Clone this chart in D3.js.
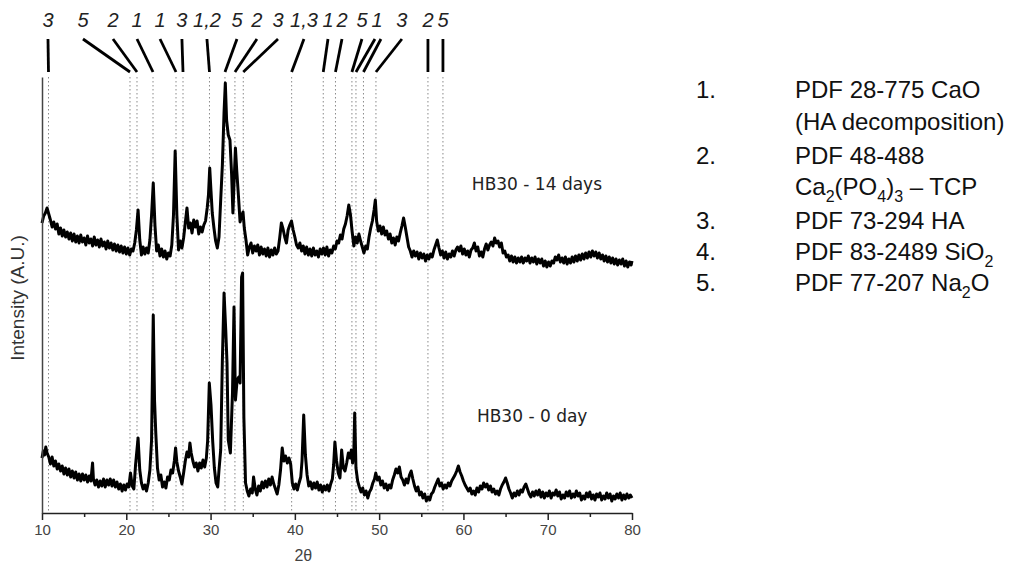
<!DOCTYPE html>
<html>
<head>
<meta charset="utf-8">
<script src="https://cdn.jsdelivr.net/npm/d3@7"></script>
<style>
  body { margin: 0; background: #fff; }
  svg { display: block; }
  .tickLab { font-family: "Liberation Sans", Arial, sans-serif; font-size: 15px; fill: #444; }
</style>
</head>
<body>
<svg id="chart" width="1030" height="565"></svg>
<script>
// XRD patterns of HB30: [2theta, intensity (A.U.)]
const day14 = [
  [10.0,290],[10.2,297],[10.4,300],[10.6,305],[10.8,299],[11.0,293],[11.2,286],[11.4,291],[11.6,284],[11.8,289],
  [12.0,279],[12.2,285],[12.4,277],[12.6,283],[12.8,276],[13.0,281],[13.2,274],[13.4,280],[13.6,272],[13.8,279],
  [14.0,271],[14.2,277],[14.4,270],[14.6,278],[14.8,271],[15.0,275],[15.2,268],[15.4,277],[15.6,270],[15.8,274],
  [16.0,267],[16.2,276],[16.4,268],[16.6,273],[16.8,266],[17.0,274],[17.2,267],[17.4,271],[17.6,264],[17.8,272],
  [18.0,265],[18.2,270],[18.4,263],[18.6,269],[18.8,262],[19.0,268],[19.2,261],[19.4,267],[19.6,260],[19.8,266],
  [20.0,259],[20.2,265],[20.4,258],[20.6,264],[20.8,262],[21.0,270],[21.2,283],[21.4,303],[21.6,273],[21.8,258],
  [22.0,266],[22.2,259],[22.4,265],[22.6,260],[22.8,273],[23.0,298],[23.2,330],[23.4,288],[23.6,262],[23.8,268],
  [24.0,257],[24.2,264],[24.4,256],[24.6,262],[24.8,254],[25.0,260],[25.2,257],[25.4,268],[25.6,298],[25.8,362],
  [26.0,298],[26.2,263],[26.4,272],[26.6,265],[26.8,275],[27.0,290],[27.2,305],[27.4,285],[27.6,290],[27.8,280],
  [28.0,293],[28.2,286],[28.4,292],[28.6,279],[28.8,286],[29.0,281],[29.2,288],[29.4,292],[29.6,305],[29.75,318],
  [29.9,345],[30.05,322],[30.2,300],[30.4,285],[30.6,272],[30.8,265],[31.0,276],[31.2,313],[31.4,348],[31.6,401],
  [31.75,430],[31.9,393],[32.1,378],[32.3,373],[32.5,338],[32.65,300],[32.8,333],[32.95,365],[33.1,343],[33.3,318],
  [33.5,291],[33.7,298],[33.85,301],[34.0,285],[34.2,273],[34.4,258],[34.6,266],[34.8,270],[35.0,260],[35.2,267],
  [35.4,262],[35.6,268],[35.8,258],[36.0,266],[36.2,259],[36.4,264],[36.6,257],[36.8,265],[37.0,256],[37.2,263],
  [37.4,258],[37.6,265],[37.8,259],[38.0,262],[38.2,275],[38.4,290],[38.6,284],[38.8,276],[39.0,270],[39.2,283],
  [39.4,288],[39.6,292],[39.8,283],[40.0,276],[40.2,268],[40.4,265],[40.6,270],[40.8,262],[41.0,267],[41.2,259],
  [41.4,266],[41.6,258],[41.8,264],[42.0,257],[42.2,265],[42.4,258],[42.6,262],[42.8,256],[43.0,264],[43.2,259],
  [43.4,265],[43.6,258],[43.8,266],[44.0,257],[44.2,263],[44.4,260],[44.6,267],[44.8,264],[45.0,272],[45.2,270],
  [45.4,278],[45.6,274],[45.8,284],[46.0,289],[46.2,297],[46.4,308],[46.6,298],[46.8,281],[47.0,267],[47.2,276],
  [47.4,270],[47.6,279],[47.8,272],[48.0,266],[48.2,260],[48.4,267],[48.6,264],[48.8,276],[49.0,285],[49.2,292],
  [49.4,303],[49.55,313],[49.7,292],[49.9,282],[50.1,287],[50.3,279],[50.5,286],[50.7,278],[50.9,282],[51.1,274],
  [51.3,279],[51.5,270],[51.7,275],[51.9,268],[52.1,276],[52.3,272],[52.5,280],[52.7,287],[52.9,295],[53.1,286],
  [53.3,276],[53.5,266],[53.7,262],[53.9,256],[54.1,262],[54.3,257],[54.5,261],[54.7,254],[54.9,260],[55.1,255],
  [55.3,259],[55.5,252],[55.7,258],[55.9,254],[56.1,259],[56.3,256],[56.5,263],[56.7,268],[56.9,273],[57.1,265],
  [57.3,258],[57.5,262],[57.7,255],[57.9,261],[58.1,254],[58.3,259],[58.5,256],[58.7,262],[58.9,257],[59.1,263],
  [59.3,266],[59.5,262],[59.7,267],[59.9,259],[60.1,264],[60.3,258],[60.5,262],[60.7,256],[60.9,263],[61.1,265],
  [61.3,270],[61.5,262],[61.7,266],[61.9,257],[62.1,261],[62.3,256],[62.5,264],[62.7,269],[62.9,263],[63.1,268],
  [63.3,271],[63.5,267],[63.7,275],[63.9,270],[64.1,272],[64.3,266],[64.5,270],[64.7,260],[64.9,262],[65.1,256],
  [65.3,258],[65.5,252],[65.7,257],[65.9,251],[66.1,256],[66.3,250],[66.5,255],[66.7,251],[66.9,256],[67.1,250],
  [67.3,255],[67.5,252],[67.7,257],[67.9,250],[68.1,255],[68.3,251],[68.5,256],[68.7,249],[68.9,254],[69.1,250],
  [69.3,254],[69.5,247],[69.7,252],[69.9,246],[70.1,251],[70.3,247],[70.5,252],[70.7,250],[70.9,256],[71.1,253],
  [71.3,258],[71.5,251],[71.7,255],[71.9,250],[72.1,256],[72.3,249],[72.5,254],[72.7,250],[72.9,256],[73.1,251],
  [73.3,257],[73.5,252],[73.7,258],[73.9,253],[74.1,259],[74.3,254],[74.5,260],[74.7,255],[74.9,261],[75.1,256],
  [75.3,262],[75.5,257],[75.7,261],[75.9,255],[76.1,260],[76.3,254],[76.5,258],[76.7,252],[76.9,257],[77.1,251],
  [77.3,256],[77.5,250],[77.7,255],[77.9,249],[78.1,254],[78.3,248],[78.5,253],[78.7,249],[78.9,254],[79.1,247],
  [79.3,252],[79.5,246],[79.7,251],[79.9,248],[80.0,252]
];

const day0 = [
  [10.0,55],[10.15,62],[10.3,58],[10.45,66],[10.6,60],[10.8,56],[11.0,49],[11.2,56],[11.4,47],[11.6,52],
  [11.8,44],[12.0,49],[12.2,42],[12.4,47],[12.6,39],[12.8,45],[13.0,38],[13.2,44],[13.4,36],[13.6,42],
  [13.8,35],[14.0,41],[14.2,33],[14.4,39],[14.6,32],[14.8,39],[15.0,33],[15.2,38],[15.4,31],[15.6,37],
  [15.8,32],[16.0,50],[16.1,34],[16.3,28],[16.5,33],[16.7,26],[16.9,32],[17.1,27],[17.3,34],[17.5,26],
  [17.7,33],[17.9,28],[18.1,34],[18.3,27],[18.5,33],[18.7,26],[18.9,31],[19.1,24],[19.3,29],[19.5,22],
  [19.7,28],[19.9,23],[20.1,29],[20.3,26],[20.5,40],[20.7,27],[20.9,24],[21.1,48],[21.4,75],[21.6,43],
  [21.8,30],[22.0,24],[22.2,28],[22.4,22],[22.6,30],[22.8,43],[23.0,73],[23.2,198],[23.35,113],[23.5,80],
  [23.7,45],[23.9,33],[24.1,38],[24.3,26],[24.5,31],[24.7,25],[24.9,36],[25.1,33],[25.3,43],[25.5,40],
  [25.7,52],[25.85,65],[26.0,51],[26.2,42],[26.4,36],[26.6,29],[26.8,40],[27.0,52],[27.2,61],[27.4,56],
  [27.55,70],[27.7,60],[27.9,52],[28.1,46],[28.3,50],[28.5,42],[28.7,50],[28.9,45],[29.1,53],[29.3,46],
  [29.5,55],[29.65,72],[29.85,130],[30.05,108],[30.25,72],[30.45,45],[30.65,30],[30.85,26],[31.0,43],[31.2,63],
  [31.4,153],[31.6,220],[31.8,183],[31.95,150],[32.1,73],[32.35,60],[32.6,120],[32.78,206],[32.95,113],[33.15,133],
  [33.35,136],[33.5,130],[33.68,236],[33.8,240],[33.95,96],[34.15,30],[34.35,22],[34.55,17],[34.75,24],[34.95,20],
  [35.1,36],[35.3,24],[35.5,18],[35.7,27],[35.9,22],[36.1,31],[36.3,25],[36.5,32],[36.7,26],[36.9,34],
  [37.1,28],[37.3,36],[37.5,29],[37.7,24],[37.9,19],[38.1,28],[38.3,43],[38.5,65],[38.7,52],[38.9,57],
  [39.1,50],[39.3,55],[39.5,49],[39.7,30],[39.9,24],[40.1,29],[40.3,23],[40.5,30],[40.7,36],[40.85,52],
  [41.05,98],[41.25,58],[41.45,38],[41.65,27],[41.85,31],[42.05,24],[42.25,30],[42.45,25],[42.65,31],[42.85,23],
  [43.05,28],[43.25,21],[43.45,27],[43.65,23],[43.85,28],[44.05,22],[44.25,29],[44.45,34],[44.6,48],[44.75,71],
  [44.95,52],[45.15,40],[45.35,35],[45.55,63],[45.75,45],[45.95,42],[46.15,50],[46.35,60],[46.55,55],[46.7,63],
  [46.85,50],[47.0,62],[47.1,100],[47.25,45],[47.45,32],[47.65,26],[47.85,21],[48.05,25],[48.25,18],[48.45,22],
  [48.65,15],[48.85,21],[49.05,24],[49.25,30],[49.45,34],[49.6,40],[49.8,33],[50.0,36],[50.2,28],[50.4,32],
  [50.6,25],[50.8,29],[51.0,23],[51.2,28],[51.4,25],[51.6,33],[51.8,38],[52.0,44],[52.2,40],[52.4,46],
  [52.6,36],[52.8,33],[53.0,28],[53.2,34],[53.4,30],[53.6,38],[53.8,42],[54.0,34],[54.2,27],[54.4,22],
  [54.6,26],[54.8,18],[55.0,21],[55.2,15],[55.4,19],[55.6,12],[55.8,16],[56.0,13],[56.2,19],[56.4,21],
  [56.6,26],[56.8,30],[57.0,34],[57.2,27],[57.4,30],[57.6,24],[57.8,28],[58.0,25],[58.2,30],[58.4,27],
  [58.6,32],[58.8,35],[59.0,38],[59.2,42],[59.4,47],[59.6,41],[59.8,37],[60.0,32],[60.2,28],[60.4,25],
  [60.6,22],[60.8,25],[61.0,19],[61.2,22],[61.4,18],[61.6,25],[61.8,21],[62.0,27],[62.2,24],[62.4,30],
  [62.6,26],[62.8,29],[63.0,23],[63.2,27],[63.4,21],[63.6,24],[63.8,19],[64.0,22],[64.2,18],[64.4,24],
  [64.6,28],[64.8,31],[65.0,35],[65.2,30],[65.4,24],[65.6,20],[65.8,15],[66.0,20],[66.2,17],[66.4,22],
  [66.6,18],[66.8,23],[67.0,21],[67.2,26],[67.4,29],[67.6,24],[67.8,19],[68.0,16],[68.2,21],[68.4,17],
  [68.6,22],[68.8,18],[69.0,23],[69.2,16],[69.4,21],[69.6,15],[69.8,20],[70.0,17],[70.2,22],[70.4,15],
  [70.6,20],[70.8,18],[71.0,23],[71.2,17],[71.4,21],[71.6,14],[71.8,18],[72.0,15],[72.2,21],[72.4,17],
  [72.6,22],[72.8,15],[73.0,19],[73.2,16],[73.4,22],[73.6,17],[73.8,20],[74.0,13],[74.2,17],[74.4,14],
  [74.6,20],[74.8,16],[75.0,21],[75.2,14],[75.4,18],[75.6,13],[75.8,19],[76.0,16],[76.2,20],[76.4,13],
  [76.6,17],[76.8,14],[77.0,20],[77.2,15],[77.4,19],[77.6,12],[77.8,17],[78.0,14],[78.2,19],[78.4,15],
  [78.6,20],[78.8,13],[79.0,18],[79.2,14],[79.4,19],[79.6,15],[79.8,18],[80.0,15]
];

// reference peak positions (dotted lines) and their phase labels
const peakPos = [10.77, 20.44, 21.27, 23.17, 25.9, 26.73, 29.87, 31.71, 32.89, 33.88,
                 39.62, 43.37, 44.82, 46.77, 47.25, 48.14, 49.62, 55.79, 57.57];
const phaseLabels = ["3","5","2","1","1","3","1,2","5","2","3","1,3","1","2","5","1","3","2","5"];
const labelAt = [10.71, 14.86, 18.42, 21.27, 24.0, 26.6, 29.57, 33.13, 35.5, 38.0,
                 41.08, 43.93, 45.59, 47.96, 49.74, 52.7, 55.79, 57.57];
// which peaks each label points to
const labelPeaks = [[0],[1],[2],[3],[4],[5],[6],[7],[8],[9],[10],[11],[12],[13],[14,15],[16],[17],[18]];

const xTicks = [10, 20, 30, 40, 50, 60, 70, 80];
const xMinor = [15, 25, 35, 45, 55, 65, 75];

const seriesNames = ["HB30 - 14 days", "HB30 - 0 day"];

// legend: number + text parts [text, isSub]
const legendNums = ["1.", "", "2.", "", "3.", "4.", "5."];
const legendRows = [
  [["PDF 28-775 CaO", false]],
  [["(HA decomposition)", false]],
  [["PDF 48-488", false]],
  [["Ca", false], ["2", true], ["(PO", false], ["4", true], [")", false], ["3", true], [" \u2013 TCP", false]],
  [["PDF 73-294 HA", false]],
  [["PDF 83-2489 SiO", false], ["2", true]],
  [["PDF 77-207 Na", false], ["2", true], ["O", false]]
];

const svg = d3.select("#chart");
const W = 1030, H = 565;
svg.append("rect").attr("width", W).attr("height", H).attr("fill", "#fff");

// plot area
const plot = {left: 42, right: 632, top: 77, bottom: 513};

const xScale = d3.scaleLinear().domain([10, 80]).range([plot.left, plot.right]);
const yScale = d3.scaleLinear().domain([0, 436]).range([plot.bottom, plot.top]);

// dotted reference lines
svg.append("g")
  .selectAll("line")
  .data(peakPos)
  .enter()
  .append("line")
    .attr("x1", d => xScale(d)).attr("x2", d => xScale(d))
    .attr("y1", plot.top).attr("y2", plot.bottom)
    .attr("stroke", "#8a8a8a")
    .attr("stroke-width", 1)
    .attr("stroke-dasharray", "1.5,2.5");

// curves
const genLine = d3.line()
  .x(d => xScale(d[0]))
  .y(d => yScale(d[1]));

svg.append("g")
  .attr("fill", "none")
  .attr("stroke", "#000")
  .attr("stroke-width", 3)
  .attr("stroke-linejoin", "round")
  .selectAll("path")
  .data([day14, day0])
  .enter()
  .append("path")
    .attr("d", d => genLine(d));

// series labels
const seriesLab = [{t: seriesNames[0], x: 61.0, y: 323}, {t: seriesNames[1], x: 61.6, y: 91}];
svg.append("g")
  .selectAll("text")
  .data(seriesLab)
  .enter()
  .append("text")
    .attr("x", d => xScale(d.x))
    .attr("y", d => yScale(d.y))
    .attr("font-family", "DejaVu Sans, Verdana, sans-serif")
    .attr("font-size", 17)
    .attr("fill", "#222")
    .text(d => d.t);

// x axis, major ticks with labels
const xAxis = d3.axisBottom(xScale).tickValues(xTicks).tickSize(7).tickSizeOuter(0).tickPadding(4);
const gx = svg.append("g")
  .attr("transform", `translate(0, ${plot.bottom})`)
  .call(xAxis);
gx.select(".domain").attr("stroke", "#222").attr("stroke-width", 1.5);
gx.selectAll(".tick line").attr("stroke", "#222").attr("stroke-width", 1.5);
gx.selectAll(".tick text").attr("class", "tickLab").attr("font-size", null).attr("font-family", null);

// minor ticks
const xAxisMinor = d3.axisBottom(xScale).tickValues(xMinor).tickSize(4).tickFormat("");
const gxm = svg.append("g")
  .attr("transform", `translate(0, ${plot.bottom})`)
  .call(xAxisMinor);
gxm.select(".domain").remove();
gxm.selectAll(".tick line").attr("stroke", "#222").attr("stroke-width", 1.5);

svg.append("text")
  .attr("class", "tickLab")
  .attr("x", xScale(41))
  .attr("y", 561)
  .attr("text-anchor", "middle")
  .style("font-size", "16px")
  .text("2\u03b8");

// y axis: plain line, no ticks
const yAxis = d3.axisLeft(yScale).tickValues([]).tickSizeOuter(0);
const gy = svg.append("g")
  .attr("transform", `translate(${plot.left}, 0)`)
  .call(yAxis);
gy.select(".domain").attr("stroke", "#444").attr("stroke-width", 1.5);

svg.append("text")
  .attr("transform", `translate(24, ${(plot.top + plot.bottom) / 2 + 3}) rotate(-90)`)
  .attr("text-anchor", "middle")
  .attr("font-family", "Liberation Sans, Arial, sans-serif")
  .attr("font-size", 19)
  .attr("fill", "#333")
  .text("Intensity (A.U.)");

// phase labels on top
svg.append("g")
  .selectAll("text")
  .data(phaseLabels)
  .enter()
  .append("text")
    .attr("x", (d, i) => xScale(labelAt[i]))
    .attr("y", 27)
    .attr("text-anchor", "middle")
    .attr("font-family", "Liberation Sans, Arial, sans-serif")
    .attr("font-style", "italic")
    .attr("font-size", 20)
    .attr("fill", "#222")
    .text(d => d);

// leader lines from labels to peaks
var leaders = [];
labelPeaks.forEach(function(pk, i) {
  pk.forEach(function(p, j) {
    leaders.push({from: labelAt[i], to: peakPos[p], off: pk.length > 1 ? (j === 0 ? -2 : 4) : 0});
  });
});
svg.append("g")
  .selectAll("line")
  .data(leaders)
  .enter()
  .append("line")
    .attr("x1", d => xScale(d.from) + d.off)
    .attr("y1", 39)
    .attr("x2", d => xScale(d.to))
    .attr("y2", 72)
    .attr("stroke", "#000")
    .attr("stroke-width", 2.8);

// legend on the right
const legend = svg.append("g")
  .attr("font-family", "Liberation Sans, Arial, sans-serif")
  .attr("font-size", 24)
  .attr("fill", "#111");
const rowY = [98, 130, 164, 195, 229, 260, 291];

legendNums.forEach(function(n, i) {
  if (n) legend.append("text").attr("x", 696).attr("y", rowY[i]).text(n);
  var t = legend.append("text").attr("x", 795).attr("y", rowY[i]);
  var prevSub = false;
  legendRows[i].forEach(function(part) {
    var ts = t.append("tspan").text(part[0]);
    if (part[1]) {
      ts.attr("font-size", 16).attr("dy", prevSub ? 0 : 7);
    } else if (prevSub) {
      ts.attr("dy", -7);
    }
    prevSub = part[1];
  });
});
</script>
</body>
</html>
